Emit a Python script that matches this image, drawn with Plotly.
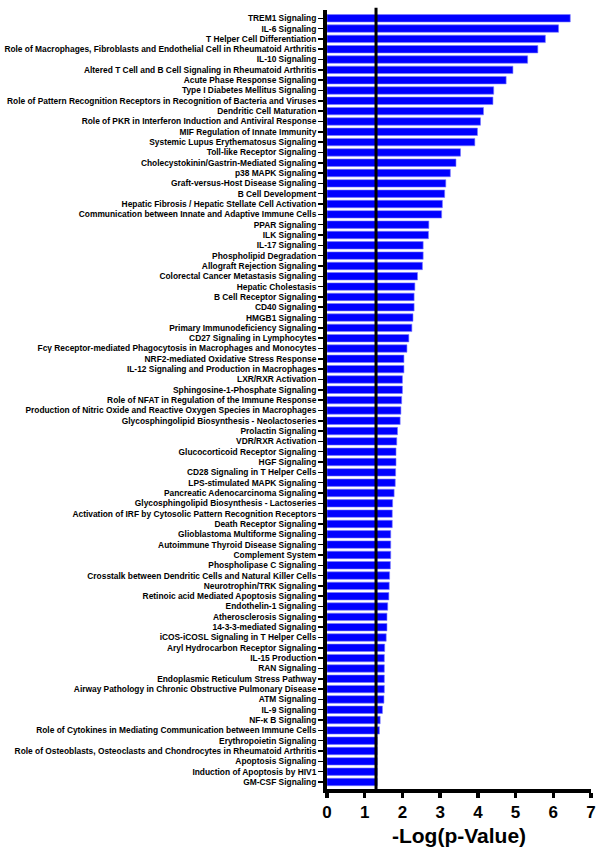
import plotly.graph_objects as go

pathways = [
    "TREM1 Signaling",
    "IL-6 Signaling",
    "T Helper Cell Differentiation",
    "Role of Macrophages, Fibroblasts and Endothelial Cell in Rheumatoid Arthritis",
    "IL-10 Signaling",
    "Altered T Cell and B Cell Signaling in Rheumatoid Arthritis",
    "Acute Phase Response Signaling",
    "Type I Diabetes Mellitus Signaling",
    "Role of Pattern Recognition Receptors in Recognition of Bacteria and Viruses",
    "Dendritic Cell Maturation",
    "Role of PKR in Interferon Induction and Antiviral Response",
    "MIF Regulation of Innate Immunity",
    "Systemic Lupus Erythematosus Signaling",
    "Toll-like Receptor Signaling",
    "Cholecystokinin/Gastrin-Mediated Signaling",
    "p38 MAPK Signaling",
    "Graft-versus-Host Disease Signaling",
    "B Cell Development",
    "Hepatic Fibrosis / Hepatic Stellate Cell Activation",
    "Communication between Innate and Adaptive Immune Cells",
    "PPAR Signaling",
    "ILK Signaling",
    "IL-17 Signaling",
    "Phospholipid Degradation",
    "Allograft Rejection Signaling",
    "Colorectal Cancer Metastasis Signaling",
    "Hepatic Cholestasis",
    "B Cell Receptor Signaling",
    "CD40 Signaling",
    "HMGB1 Signaling",
    "Primary Immunodeficiency Signaling",
    "CD27 Signaling in Lymphocytes",
    "Fcγ Receptor-mediated Phagocytosis in Macrophages and Monocytes",
    "NRF2-mediated Oxidative Stress Response",
    "IL-12 Signaling and Production in Macrophages",
    "LXR/RXR Activation",
    "Sphingosine-1-Phosphate Signaling",
    "Role of NFAT in Regulation of the Immune Response",
    "Production of Nitric Oxide and Reactive Oxygen Species in Macrophages",
    "Glycosphingolipid Biosynthesis - Neolactoseries",
    "Prolactin Signaling",
    "VDR/RXR Activation",
    "Glucocorticoid Receptor Signaling",
    "HGF Signaling",
    "CD28 Signaling in T Helper Cells",
    "LPS-stimulated MAPK Signaling",
    "Pancreatic Adenocarcinoma Signaling",
    "Glycosphingolipid Biosynthesis - Lactoseries",
    "Activation of IRF by Cytosolic Pattern Recognition Receptors",
    "Death Receptor Signaling",
    "Glioblastoma Multiforme Signaling",
    "Autoimmune Thyroid Disease Signaling",
    "Complement System",
    "Phospholipase C Signaling",
    "Crosstalk between Dendritic Cells and Natural Killer Cells",
    "Neurotrophin/TRK Signaling",
    "Retinoic acid Mediated Apoptosis Signaling",
    "Endothelin-1 Signaling",
    "Atherosclerosis Signaling",
    "14-3-3-mediated Signaling",
    "iCOS-iCOSL Signaling in T Helper Cells",
    "Aryl Hydrocarbon Receptor Signaling",
    "IL-15 Production",
    "RAN Signaling",
    "Endoplasmic Reticulum Stress Pathway",
    "Airway Pathology in Chronic Obstructive Pulmonary Disease",
    "ATM Signaling",
    "IL-9 Signaling",
    "NF-κ B Signaling",
    "Role of Cytokines in Mediating Communication between Immune Cells",
    "Erythropoietin Signaling",
    "Role of Osteoblasts, Osteoclasts and Chondrocytes in Rheumatoid Arthritis",
    "Apoptosis Signaling",
    "Induction of Apoptosis by HIV1",
    "GM-CSF Signaling",
]

neg_log_p = [
    6.45, 6.14, 5.79, 5.59, 5.32, 4.93, 4.75, 4.42, 4.40, 4.15, 4.07, 3.99, 3.92,
    3.54, 3.42, 3.27, 3.15, 3.12, 3.06, 3.04, 2.70, 2.69, 2.55, 2.55, 2.53, 2.40,
    2.33, 2.31, 2.31, 2.28, 2.25, 2.17, 2.12, 2.04, 2.04, 2.00, 2.00, 1.98, 1.96,
    1.94, 1.87, 1.85, 1.83, 1.83, 1.82, 1.81, 1.78, 1.74, 1.73, 1.73, 1.69, 1.69, 1.69,
    1.68, 1.66, 1.65, 1.64, 1.61, 1.59, 1.59, 1.57, 1.53, 1.52, 1.52, 1.52, 1.52,
    1.51, 1.47, 1.41, 1.39, 1.33, 1.33, 1.33, 1.33, 1.33,
]

threshold = 1.3
x_ticks = [0, 1, 2, 3, 4, 5, 6, 7]

idx = list(range(len(pathways)))

fig = go.Figure()
fig.add_trace(go.Bar(
    x=neg_log_p,
    y=idx,
    orientation="h",
    width=0.72,
    marker=dict(color="#0000FF", line=dict(color="#7a7aff", width=0.6)),
    showlegend=False,
    hoverinfo="skip",
))

fig.add_shape(type="line", xref="x", yref="paper", x0=threshold, x1=threshold,
              y0=0, y1=1.003, line=dict(color="black", width=3))

n = len(pathways)
fig.update_layout(
    width=600, height=852,
    margin=dict(l=327, r=9, t=10, b=63),
    plot_bgcolor="white", paper_bgcolor="white",
    hovermode=False,
    font=dict(family="Liberation Sans, Arial, sans-serif", color="black"),
    xaxis=dict(
        range=[0, 7], tickvals=x_ticks, ticktext=[str(t) for t in x_ticks],
        showline=True, linecolor="black", linewidth=4,
        ticks="outside", ticklen=5, tickwidth=3.5, tickcolor="black",
        tickfont=dict(size=17, family="Liberation Sans, Arial, sans-serif", weight="bold"),
        showgrid=False, zeroline=False, automargin=False,
        title=dict(text="<b>-Log(p-Value)</b>", font=dict(size=21), standoff=8),
    ),
    yaxis=dict(
        range=[n - 1 + 0.68, -0.8],
        tickvals=idx, ticktext=pathways,
        showline=True, linecolor="black", linewidth=4,
        ticks="outside", ticklen=5, tickwidth=1.5, tickcolor="black",
        tickfont=dict(size=8.4, family="Liberation Sans, Arial, sans-serif", weight="bold"),
        showgrid=False, zeroline=False, automargin=False,
    ),
)

fig.write_html("out.html", config={"displayModeBar": False, "staticPlot": True},
               post_script="document.body.style.margin='0px';")
